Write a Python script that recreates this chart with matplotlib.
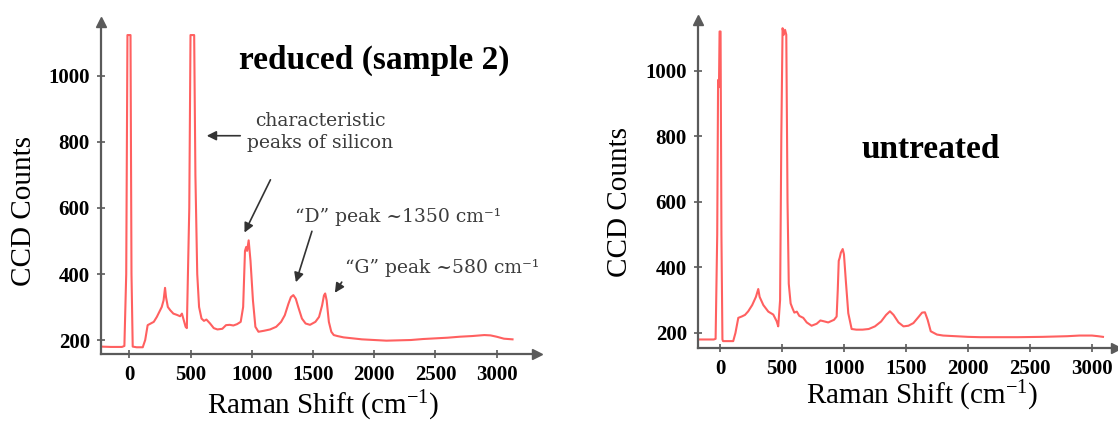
import matplotlib
matplotlib.use("Agg")
import matplotlib.pyplot as plt

# ---------------- data ----------------
# Raman spectrum, reduced sample 2
shift_reduced = [-230, -150, -60, -40, -25, -15, 10, 18, 28, 60, 110, 130, 150, 175,
                 200, 225, 245, 265, 280, 292, 300, 315, 335, 360, 390, 415, 430, 445,
                 460, 470, 490, 500, 530, 540, 555, 570, 590, 610, 630, 660, 690, 720,
                 760, 790, 820, 850, 880, 910, 930, 945, 955, 962, 975, 990, 1010, 1030,
                 1055, 1100, 1150, 1200, 1240, 1270, 1300, 1320, 1340, 1360, 1380, 1410,
                 1440, 1476, 1520, 1550, 1575, 1590, 1600, 1612, 1630, 1650, 1670, 1700,
                 1750, 1800, 1900, 2000, 2100, 2200, 2300, 2400, 2500, 2600, 2700, 2800,
                 2900, 2950, 3000, 3060, 3130]
counts_reduced = [180, 179, 179, 182, 400, 1124, 1124, 400, 180, 178, 178, 200, 245, 250,
                  255, 270, 285, 300, 320, 358, 330, 300, 290, 280, 276, 272, 280, 260,
                  240, 236, 600, 1124, 1124, 700, 400, 300, 265, 258, 262, 250, 236, 232,
                  234, 245, 246, 244, 248, 255, 300, 470, 482, 470, 502, 440, 320, 240,
                  225, 228, 232, 240, 255, 275, 310, 330, 336, 325, 300, 265,
                  250, 246, 255, 270, 305, 335, 341, 320, 255, 225, 215, 212,
                  208, 206, 202, 200, 198, 199, 200, 203, 205, 207, 210, 212,
                  215, 214, 210, 204, 202]

# Raman spectrum, untreated sample
shift_untreated = [-177, -100, -50, -35, -22, -15, -8, -3, 5, 12, 20, 25, 60, 107, 125,
                   148, 175, 202, 228, 260, 290, 309, 320, 350, 390, 430, 457, 470, 485,
                   495, 505, 515, 525, 535, 545, 555, 570, 585, 600, 620, 640, 672, 700,
                   739, 780, 810, 833, 873, 920, 941, 950, 958, 966, 975, 990, 1000, 1015,
                   1035, 1062, 1100, 1150, 1200, 1250, 1300, 1340, 1371, 1400, 1440, 1480,
                   1520, 1560, 1600, 1630, 1653, 1675, 1700, 1750, 1800, 1900, 2000, 2100,
                   2200, 2400, 2600, 2800, 2900, 3000, 3050, 3089]
counts_untreated = [180, 180, 180, 182, 500, 972, 950, 1120, 1120, 500, 180, 175, 175, 175, 200,
                    246, 250, 255, 266, 285, 310, 334, 310, 285, 265, 256, 236, 220, 300,
                    800, 1130, 1110, 1125, 1110, 600, 350, 290, 275, 262, 265, 252, 246, 232,
                    222, 228, 238, 236, 232, 240, 250, 330, 420, 430, 445, 456, 440, 360,
                    260, 212, 210, 210, 212, 220, 235, 255, 266, 255, 232, 220,
                    222, 230, 248, 262, 263, 240, 205, 195, 192, 190, 188, 187,
                    187, 187, 188, 190, 192, 192, 190, 188]

y_ticks = [200, 400, 600, 800, 1000]
x_ticks = [0, 500, 1000, 1500, 2000, 2500, 3000]

LINE_RED = "#ff6060"
AXIS_GREY = "#5a5a5a"
NOTE_GREY = "#3c3c3c"

plt.rcParams["mathtext.fontset"] = "custom"
plt.rcParams["mathtext.rm"] = "Liberation Serif"
plt.rcParams["mathtext.it"] = "Liberation Serif:italic"
plt.rcParams["mathtext.bf"] = "Liberation Serif:bold"

W, H = 1118, 423
fig = plt.figure(figsize=(W / 100, H / 100), dpi=100)
fig.patch.set_facecolor("white")

tick_font = {"family": "Liberation Serif", "weight": "bold", "size": 15}


def px_axes(left, top, right, bottom):
    return fig.add_axes([left / W, 1 - bottom / H, (right - left) / W, (bottom - top) / H])


def style_axes(ax, xlim, ylim):
    ax.set_xlim(*xlim)
    ax.set_ylim(*ylim)
    for side in ("top", "right"):
        ax.spines[side].set_visible(False)
    for side in ("left", "bottom"):
        ax.spines[side].set_color(AXIS_GREY)
        ax.spines[side].set_linewidth(1.6)
    ax.set_xticks(x_ticks, labels=[str(v) for v in x_ticks], fontdict=tick_font)
    ax.set_yticks(y_ticks, labels=[str(v) for v in y_ticks], fontdict=tick_font)
    ax.tick_params(direction="inout", length=6, width=1.2, color=AXIS_GREY, pad=5)
    # arrow heads at the ends of both axes
    ax.plot(0, 1, marker="^", ms=7, color=AXIS_GREY, transform=ax.transAxes, clip_on=False)
    ax.plot(1, 0, marker=">", ms=7, color=AXIS_GREY, transform=ax.transAxes, clip_on=False)
    ax.set_facecolor("none")


serif = {"family": "Liberation Serif"}

# ---------------- reduced sample ----------------
ax1 = px_axes(101, 22, 537, 354)
ax1.plot(shift_reduced, counts_reduced, color=LINE_RED, lw=1.5, solid_joinstyle="round")
style_axes(ax1, (-231, 3330), (157.6, 1163.6))
ax1.set_ylabel("CCD Counts", fontsize=21, **serif)
ax1.yaxis.set_label_coords(-0.147, 0.43)
ax1.set_xlabel("Raman Shift (cm$^{-1}$)", fontsize=21, **serif)
ax1.xaxis.set_label_coords(0.51, -0.105)
ax1.text(0.626, 0.86, "reduced (sample 2)", transform=ax1.transAxes, ha="center",
         va="baseline", fontsize=24, fontweight="bold", **serif)

note = {"family": "DejaVu Serif", "color": NOTE_GREY, "fontsize": 13.5}
arrow = dict(arrowstyle="-|>", color="#333333", lw=1.2, mutation_scale=14)
ax1.annotate("characteristic\npeaks of silicon", xy=(610, 819), xytext=(1560, 890),
             ha="center", va="top", linespacing=1.25, **note)
ax1.annotate("", xy=(610, 819), xytext=(929, 819), arrowprops=arrow)
ax1.annotate("", xy=(931, 518), xytext=(1163, 693), arrowprops=arrow)
ax1.annotate("\u201cD\u201d peak ~1350 cm\u207b\u00b9", xy=(1354, 367), xytext=(1354, 558),
             ha="left", va="baseline", arrowprops=dict(arrow, relpos=(0.09, 0.0)), **note)
ax1.annotate("\u201cG\u201d peak ~580 cm\u207b\u00b9", xy=(1667, 336), xytext=(1762, 403),
             ha="left", va="baseline", arrowprops=dict(arrow, relpos=(0.0, 0.0)), **note)

# ---------------- untreated sample ----------------
ax2 = px_axes(698, 20, 1116, 348)
ax2.plot(shift_untreated, counts_untreated, color=LINE_RED, lw=1.5, solid_joinstyle="round")
style_axes(ax2, (-177, 3194), (154, 1155))
ax2.set_ylabel("CCD Counts", fontsize=21, **serif)
ax2.yaxis.set_label_coords(-0.156, 0.445)
ax2.set_xlabel("Raman Shift (cm$^{-1}$)", fontsize=21, **serif)
ax2.xaxis.set_label_coords(0.535, -0.095)
ax2.text(0.557, 0.58, "untreated", transform=ax2.transAxes, ha="center",
         va="baseline", fontsize=24, fontweight="bold", **serif)

fig.savefig("out.png", dpi=100, facecolor="white")
